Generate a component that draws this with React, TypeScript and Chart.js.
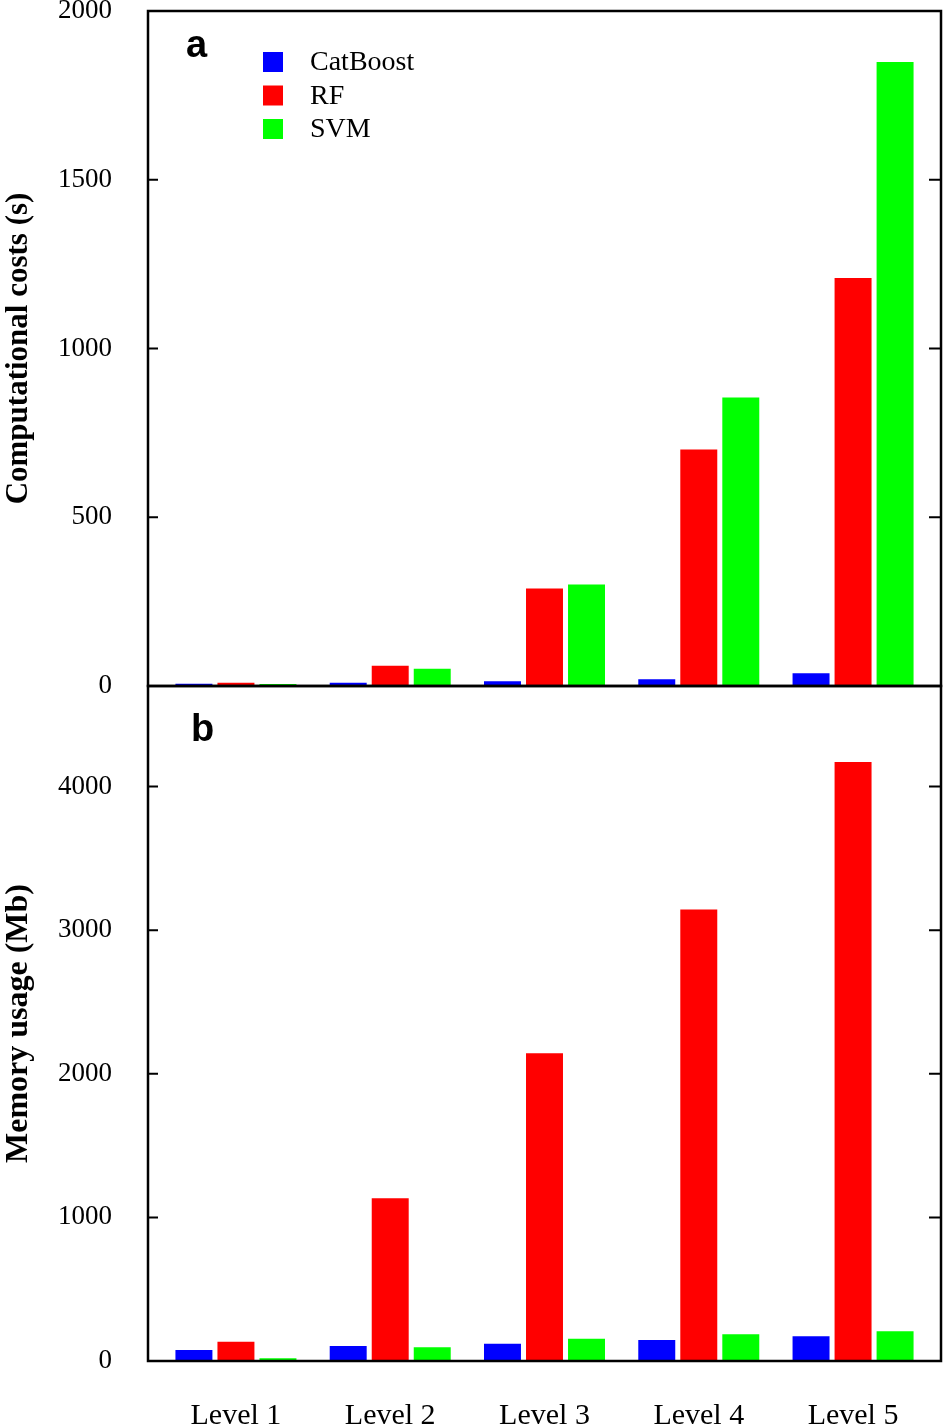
import React, { useEffect, useRef } from 'react';
import { Chart, registerables } from 'chart.js';

Chart.register(...registerables);

const categories = ['Level 1', 'Level 2', 'Level 3', 'Level 4', 'Level 5'];
const seriesNames = ['CatBoost', 'RF', 'SVM'];

const costCatBoost = [7, 10, 14, 20, 38];
const costRF = [10, 60, 289, 701, 1209];
const costSVM = [6, 51, 301, 855, 1849];

const memCatBoost = [76, 104, 120, 146, 172];
const memRF = [134, 1134, 2143, 3144, 4170];
const memSVM = [19, 95, 155, 186, 207];

const costTicks = [0, 500, 1000, 1500, 2000];
const memTicks = [0, 1000, 2000, 3000, 4000];

const SERIF = "'Liberation Serif', 'Times New Roman', serif";
const SANS = "'Liberation Sans', Arial, sans-serif";
const COLORS = ['#0000ff', '#ff0000', '#00ff00'];

function buildDatasets(series: number[][]) {
  return series.map((vals, si) => ({
    label: seriesNames[si],
    data: vals.map((v, i) => ({ x: i + 1, y: v })),
    backgroundColor: COLORS[si],
    borderWidth: 0,
    barPercentage: 0.88,
    categoryPercentage: 0.817,
  }));
}

function framePlugin(letter: string, dx: number, dy: number, showLegend: boolean, tickValues: number[]) {
  return {
    id: 'frameDeco',
    afterDatasetsDraw(chart: any) {
      const { ctx, chartArea: a } = chart;
      const ys = chart.scales.y;
      ctx.save();
      ctx.strokeStyle = '#000';
      ctx.lineWidth = 2.5;
      ctx.strokeRect(a.left, a.top, a.right - a.left, a.bottom - a.top);
      ctx.lineWidth = 2;
      for (const v of tickValues) {
        const py = ys.getPixelForValue(v);
        if (py <= a.top + 3 || py >= a.bottom - 3) continue;
        ctx.beginPath();
        ctx.moveTo(a.left, py);
        ctx.lineTo(a.left + 10, py);
        ctx.moveTo(a.right - 12, py);
        ctx.lineTo(a.right, py);
        ctx.stroke();
      }
      ctx.fillStyle = '#000';
      ctx.font = `bold 38px ${SANS}`;
      ctx.textAlign = 'left';
      ctx.textBaseline = 'alphabetic';
      ctx.fillText(letter, a.left + dx, a.top + dy);
      if (showLegend) {
        ctx.font = `28px ${SERIF}`;
        ctx.textBaseline = 'middle';
        chart.data.datasets.forEach((ds: any, i: number) => {
          const top = a.top + 41 + i * 33.5;
          ctx.fillStyle = ds.backgroundColor;
          ctx.fillRect(a.left + 115, top, 20, 20);
          ctx.fillStyle = '#000';
          ctx.fillText(ds.label, a.left + 162, top + 11);
        });
      }
      ctx.restore();
    },
  };
}

function yAxis(max: number, ticks: number[], title: string, size: number) {
  return {
    type: 'linear',
    min: 0,
    max,
    afterBuildTicks: (s: any) => {
      s.ticks = ticks.map((v) => ({ value: v }));
    },
    afterFit: (s: any) => {
      s.width = 148;
      s.paddingTop = 0;
      s.paddingBottom = 0;
    },
    grid: { display: false, drawTicks: false },
    border: { display: false },
    ticks: {
      padding: 36,
      color: '#000',
      font: { family: SERIF, size: 27 },
      callback: (v: any) => String(v),
    },
    title: {
      display: true,
      text: title,
      color: '#000',
      padding: 0,
      font: { family: SERIF, size, weight: 'bold' },
    },
  };
}

function xAxis(show: boolean) {
  return {
    type: 'linear',
    min: 0.43,
    max: 5.57,
    offset: false,
    display: show,
    afterBuildTicks: (s: any) => {
      s.ticks = categories.map((_, i) => ({ value: i + 1 }));
    },
    afterFit: (s: any) => {
      if (show) s.height = 66;
      s.paddingLeft = 0;
      s.paddingRight = 0;
    },
    grid: { display: false, drawTicks: false, offset: false },
    border: { display: false },
    ticks: {
      padding: 37,
      color: '#000',
      maxRotation: 0,
      autoSkip: false,
      font: { family: SERIF, size: 30 },
      callback: (v: any) => categories[Math.round(v) - 1] ?? '',
    },
  };
}

export default function App() {
  const refA = useRef<HTMLCanvasElement>(null);
  const refB = useRef<HTMLCanvasElement>(null);

  useEffect(() => {
    const chartA = new Chart(refA.current as HTMLCanvasElement, {
      type: 'bar',
      data: { datasets: buildDatasets([costCatBoost, costRF, costSVM]) as any },
      options: {
        responsive: false,
        animation: false,
        devicePixelRatio: 1,
        layout: { padding: { top: 11, right: 3, bottom: 14, left: 0 } },
        plugins: { legend: { display: false }, tooltip: { enabled: false } },
        scales: {
          x: xAxis(false) as any,
          y: yAxis(2000, costTicks, 'Computational costs (s)', 31) as any,
        },
      },
      plugins: [framePlugin('a', 38, 46, true, costTicks)],
    });
    const chartB = new Chart(refB.current as HTMLCanvasElement, {
      type: 'bar',
      data: { datasets: buildDatasets([memCatBoost, memRF, memSVM]) as any },
      options: {
        responsive: false,
        animation: false,
        devicePixelRatio: 1,
        layout: { padding: { top: 6, right: 3, bottom: 0, left: 0 } },
        plugins: { legend: { display: false }, tooltip: { enabled: false } },
        scales: {
          x: xAxis(true) as any,
          y: yAxis(4700, memTicks, 'Memory usage (Mb)', 32) as any,
        },
      },
      plugins: [framePlugin('b', 43, 55, false, memTicks)],
    });
    return () => {
      chartA.destroy();
      chartB.destroy();
    };
  }, []);

  return (
    <div style={{ position: 'absolute', left: 0, top: 0, width: 944, height: 1427, background: '#fff' }}>
      <canvas ref={refA} width={944} height={700} style={{ position: 'absolute', left: 0, top: 0 }} />
      <canvas ref={refB} width={944} height={747} style={{ position: 'absolute', left: 0, top: 680 }} />
    </div>
  );
}
